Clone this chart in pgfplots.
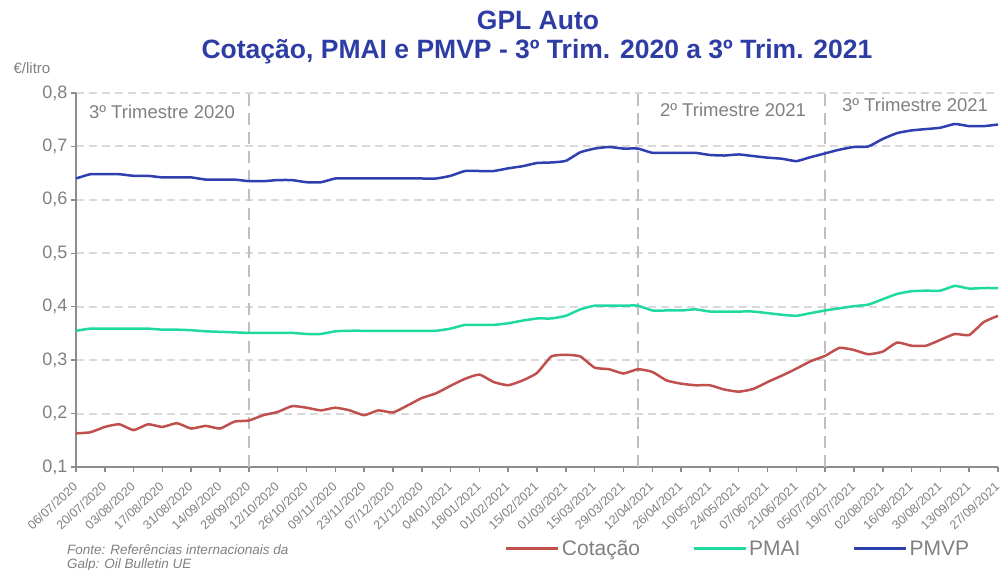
\documentclass[border=0pt]{standalone}
\usepackage{pgfplots}
\pgfplotsset{compat=1.18}
\usepackage{pgfplotstable}
\usepackage{fontspec}
\setmainfont{Liberation Sans}
\definecolor{cred}{HTML}{C0504D}
\definecolor{cgreen}{HTML}{1FD9A0}
\definecolor{cblue}{HTML}{2E3FB0}
\definecolor{ctitle}{HTML}{2E3DA3}
\definecolor{cgray}{HTML}{808080}
\definecolor{caxis}{HTML}{8C8C8C}
\definecolor{cgrid}{HTML}{D9D9D9}
\definecolor{cvline}{HTML}{BFBFBF}

\pgfplotstableread{
i cot pmai pmvp
0 0.163 0.355 0.640
1 0.165 0.359 0.648
2 0.175 0.359 0.648
3 0.180 0.359 0.648
4 0.169 0.359 0.645
5 0.180 0.359 0.645
6 0.175 0.357 0.642
7 0.182 0.357 0.642
8 0.172 0.356 0.642
9 0.177 0.354 0.638
10 0.172 0.353 0.638
11 0.185 0.352 0.638
12 0.187 0.351 0.635
13 0.197 0.351 0.635
14 0.203 0.351 0.637
15 0.214 0.351 0.637
16 0.211 0.349 0.633
17 0.206 0.349 0.633
18 0.211 0.354 0.640
19 0.206 0.355 0.640
20 0.197 0.355 0.640
21 0.206 0.355 0.640
22 0.202 0.355 0.640
23 0.215 0.355 0.640
24 0.229 0.355 0.640
25 0.238 0.355 0.640
26 0.252 0.359 0.645
27 0.265 0.366 0.654
28 0.273 0.366 0.654
29 0.259 0.366 0.654
30 0.253 0.369 0.659
31 0.262 0.374 0.663
32 0.276 0.378 0.669
33 0.307 0.378 0.670
34 0.310 0.383 0.673
35 0.307 0.395 0.689
36 0.286 0.402 0.696
37 0.283 0.402 0.699
38 0.275 0.402 0.696
39 0.283 0.402 0.696
40 0.278 0.393 0.688
41 0.262 0.393 0.688
42 0.256 0.393 0.688
43 0.253 0.395 0.688
44 0.253 0.391 0.684
45 0.245 0.391 0.683
46 0.241 0.391 0.685
47 0.246 0.391 0.682
48 0.259 0.388 0.679
49 0.271 0.385 0.677
50 0.284 0.383 0.6725
51 0.298 0.388 0.680
52 0.308 0.393 0.687
53 0.323 0.397 0.694
54 0.319 0.401 0.699
55 0.311 0.404 0.700
56 0.316 0.414 0.714
57 0.333 0.424 0.725
58 0.327 0.429 0.730
59 0.327 0.430 0.7325
60 0.338 0.430 0.735
61 0.349 0.439 0.742
62 0.347 0.434 0.738
63 0.371 0.435 0.738
64 0.383 0.435 0.741
}\datatable

\begin{document}
\begin{tikzpicture}
\useasboundingbox (-76pt,-103pt) rectangle (925pt,467pt);
\begin{axis}[
  scale only axis,
  width=922pt, height=374pt,
  at={(0pt,0pt)}, anchor=south west,
  xmin=0, xmax=64, ymin=0.1, ymax=0.8,
  axis x line*=bottom, axis y line*=left,
  axis line style={caxis, line width=2pt, -},
  xtick={0,2,...,64},
  xticklabels={06/07/2020,20/07/2020,03/08/2020,17/08/2020,31/08/2020,14/09/2020,28/09/2020,12/10/2020,26/10/2020,09/11/2020,23/11/2020,07/12/2020,21/12/2020,04/01/2021,18/01/2021,01/02/2021,15/02/2021,01/03/2021,15/03/2021,29/03/2021,12/04/2021,26/04/2021,10/05/2021,24/05/2021,07/06/2021,21/06/2021,05/07/2021,19/07/2021,02/08/2021,16/08/2021,30/08/2021,13/09/2021,27/09/2021},
  ytick={0.1,0.2,0.3,0.4,0.5,0.6,0.7,0.8},
  tick align=outside,
  major tick length=5pt,
  tick style={caxis, line width=1.5pt},
  xtick pos=bottom, ytick pos=left,
  ymajorgrids,
  major grid style={cgrid, line width=2pt, dash pattern=on 8pt off 5pt},
  x tick label style={font=\fontsize{12.5}{12.5}\selectfont, text=cgray, rotate=43, anchor=north east, inner sep=1pt, yshift=-3pt, xshift=-8pt},
  y tick label style={font=\fontsize{18}{18}\selectfont, text=cgray, /pgf/number format/.cd, fixed, fixed zerofill, precision=1, use comma, assume math mode=true},
  legend style={draw=none, fill=none, at={(axis description cs:0.718,-0.219)}, anchor=center, font=\fontsize{21}{21}\selectfont, text=cgray, legend cell align=left, /tikz/every even column/.append style={column sep=50pt}},
  legend columns=3,
  legend image code/.code={\draw[#1, line width=3pt] (0pt,0pt) -- (52pt,0pt);},
  clip=false,
]
\addplot[cvline, line width=2pt, dash pattern=on 12pt off 7pt, forget plot] coordinates {(12,0.1) (12,0.8)};
\addplot[cvline, line width=2pt, dash pattern=on 12pt off 7pt, forget plot] coordinates {(39,0.1) (39,0.8)};
\addplot[cvline, line width=2pt, dash pattern=on 12pt off 7pt, forget plot] coordinates {(52,0.1) (52,0.8)};
\addplot[cred, line width=2.5pt, smooth, tension=0.3] table[x=i, y=cot] {\datatable};
\addlegendentry{Cotação}
\addplot[cgreen, line width=2.5pt, smooth, tension=0.3] table[x=i, y=pmai] {\datatable};
\addlegendentry{PMAI}
\addplot[cblue, line width=2.5pt, smooth, tension=0.3] table[x=i, y=pmvp] {\datatable};
\addlegendentry{PMVP}
\end{axis}
\node[font=\fontsize{26.5}{26.5}\selectfont\bfseries, text=ctitle] at (462pt,447pt) {GPL Auto};
\node[font=\fontsize{26.5}{26.5}\selectfont\bfseries, text=ctitle] at (461pt,415pt) {Cotação, PMAI e PMVP - 3º Trim. 2020 a 3º Trim. 2021};
\node[font=\fontsize{15}{15}\selectfont, text=cgray] at (-44pt,399pt) {€/litro};
\node[font=\fontsize{18.5}{18.5}\selectfont, text=cgray] at (86pt,355pt) {3º Trimestre 2020};
\node[font=\fontsize{18.5}{18.5}\selectfont, text=cgray] at (657pt,357pt) {2º Trimestre 2021};
\node[font=\fontsize{18.5}{18.5}\selectfont, text=cgray] at (839pt,362pt) {3º Trimestre 2021};
\node[font=\fontsize{13.5}{13.5}\selectfont\itshape, text=cgray, anchor=west, align=left, inner sep=0pt] at (-9pt,-91pt) {Fonte: Referências internacionais da\\[0pt]Galp: Oil Bulletin UE};
\end{tikzpicture}
\end{document}
